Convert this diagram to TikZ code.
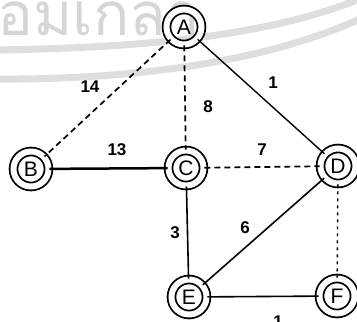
\documentclass[tikz,border=0pt]{standalone}
\usepackage{fontspec}
\setmainfont{Liberation Sans}
\newfontfamily\thaifont[Script=Thai]{Loma}
\begin{document}
\begin{tikzpicture}[x=1pt,y=-1pt,
  vert/.style={circle,draw,line width=1.8pt,minimum size=35pt,inner sep=0pt,
    font=\fontsize{21}{21}\selectfont,
    double distance=6pt, double=white},
  wlabel/.style={font=\bfseries\fontsize{17}{17}\selectfont},
  solidedge/.style={line width=1.6pt},
  dashedge/.style={line width=1.7pt,dash pattern=on 6pt off 4pt},
  dotedge/.style={line width=1.4pt,dash pattern=on 3pt off 4pt},
  wmark/.style={black!13,line width=7pt}]
\useasboundingbox (0,0) rectangle (357,322);
% watermark
\begin{scope}
\clip (0,0) rectangle (357,322);
\draw[wmark] (-5,50) .. controls (120,48) and (260,40) .. (362,-2);
\draw[wmark] (-5,79) .. controls (120,80) and (260,65) .. (362,18);
\node[text=black!16,font=\thaifont\fontsize{60}{60}\selectfont,anchor=base west,inner sep=0pt] (wm) at (-38,35) {จอมเกล้า};
\end{scope}
\node[vert] (A) at (184,27) {A};
\node[vert] (B) at (31,169) {B};
\node[vert] (C) at (186,168) {C};
\node[vert] (D) at (338,166) {D};
\node[vert] (E) at (189,297) {E};
\node[vert] (F) at (337,296) {F};
\draw[dashedge] (A) -- (B);
\draw[dashedge] (A) -- (C);
\draw[solidedge,line width=1.4pt] (A) -- (D);
\draw[solidedge,line width=2.5pt] (B) -- (C);
\draw[dashedge] (C) -- (D);
\draw[solidedge] (C) -- (E);
\draw[solidedge] (D) -- (E);
\draw[dotedge] (D) -- (F);
\draw[solidedge] (E) -- (F);
\node[wlabel] (l14) at (90,87) {14};
\node[wlabel] (l8) at (208,107) {8};
\node[wlabel] (l1a) at (273,83) {1};
\node[wlabel] (l13) at (117,150) {13};
\node[wlabel] (l7) at (262,150) {7};
\node[wlabel] (l3) at (175,233) {3};
\node[wlabel] (l6) at (245,228) {6};
\node[wlabel] (l1b) at (278,322) {1};
\end{tikzpicture}
\end{document}
